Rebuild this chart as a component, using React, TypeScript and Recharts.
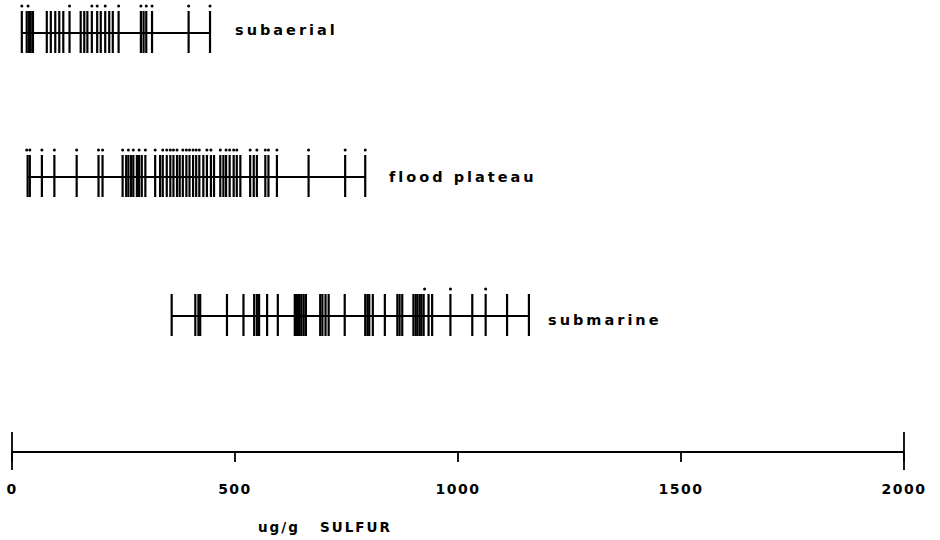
import React from 'react';
import { ScatterChart, Scatter, XAxis, YAxis, ReferenceLine } from 'recharts';

// sulfur values, ug/g
const subaerial = [22, 33, 38, 42, 47, 78, 87, 97, 106, 115, 129, 154, 162, 169, 179, 191, 199, 209, 218, 226, 239, 289, 295, 301, 314, 396, 444];
const subaerialDots = [22, 36, 129, 179, 191, 209, 239, 289, 301, 314, 396, 444];

const flood = [35, 40, 67, 95, 145, 194, 203, 248, 256, 261, 267, 272, 280, 285, 291, 299, 321, 332, 338, 347, 355, 362, 370, 376, 383, 391, 398, 406, 413, 420, 429, 437, 446, 453, 467, 474, 480, 488, 497, 504, 512, 534, 542, 549, 568, 575, 594, 665, 747, 792];
const floodDots = [33, 40, 67, 95, 145, 194, 203, 248, 261, 272, 285, 299, 321, 338, 347, 355, 362, 370, 383, 391, 398, 406, 413, 420, 437, 446, 467, 480, 488, 497, 504, 534, 549, 568, 575, 594, 665, 747, 792];

const submarine = [358, 411, 418, 422, 482, 519, 543, 549, 554, 572, 596, 634, 637, 641, 645, 649, 654, 659, 691, 696, 703, 710, 746, 792, 797, 801, 809, 836, 864, 869, 875, 900, 905, 909, 914, 918, 923, 934, 942, 983, 1032, 1062, 1110, 1159];
const submarineDots = [925, 983, 1062];

const axisTicks = [0, 500, 1000, 1500, 2000];

const rows = [
  { name: 'subaerial', values: subaerial, dots: subaerialDots, y: 33 },
  { name: 'flood plateau', values: flood, dots: floodDots, y: 177 },
  { name: 'submarine', values: submarine, dots: submarineDots, y: 316 },
];

const font = '"DejaVu Sans", sans-serif';

const Stick = (props: any) => {
  const { cx, cy } = props;
  return <line x1={cx} x2={cx} y1={cy - 22} y2={cy + 20} stroke="#000" strokeWidth={2.2} />;
};

const Dot = (props: any) => {
  const { cx, cy } = props;
  return <circle cx={cx} cy={cy - 27} r={1.5} fill="#000" />;
};

const AxisTick = (props: any) => {
  const { x, y, payload } = props;
  return (
    <text x={x} y={y + 30} textAnchor="middle" fontFamily={font} fontWeight="bold" fontSize={14} letterSpacing={1.5} fill="#000">
      {payload.value}
    </text>
  );
};

const App = () => {
  return (
    <div style={{ position: 'absolute', left: 0, top: 0, width: 940, height: 540, background: '#fff' }}>
      <ScatterChart width={940} height={540} margin={{ top: 0, right: 36, bottom: 28, left: 12 }}>
        <XAxis
          type="number"
          dataKey="v"
          domain={[0, 2000]}
          ticks={axisTicks}
          height={60}
          tickSize={10}
          tickLine={{ stroke: '#000', strokeWidth: 1.8 }}
          axisLine={{ stroke: '#000', strokeWidth: 1.8 }}
          tick={<AxisTick />}
          allowDataOverflow
        />
        <YAxis type="number" dataKey="y" domain={[0, 452]} reversed hide />
        <ReferenceLine segment={[{ x: 0, y: 432 }, { x: 0, y: 470 }]} stroke="#000" strokeWidth={1.8} ifOverflow="visible" />
        <ReferenceLine segment={[{ x: 2000, y: 432 }, { x: 2000, y: 470 }]} stroke="#000" strokeWidth={1.8} ifOverflow="visible" />
        {rows.map((r) => (
          <ReferenceLine
            key={r.name + '-line'}
            segment={[{ x: Math.min(...r.values), y: r.y }, { x: Math.max(...r.values), y: r.y }]}
            stroke="#000"
            strokeWidth={2.2}
          />
        ))}
        {rows.map((r) => (
          <Scatter key={r.name} data={r.values.map((v) => ({ v, y: r.y }))} shape={<Stick />} isAnimationActive={false} />
        ))}
        {rows.map((r) => (
          <Scatter key={r.name + '-dots'} data={r.dots.map((v) => ({ v, y: r.y }))} shape={<Dot />} isAnimationActive={false} />
        ))}
      </ScatterChart>
      {[
        { text: 'subaerial', left: 235, top: 30 },
        { text: 'flood plateau', left: 389, top: 177 },
        { text: 'submarine', left: 548, top: 320 },
      ].map((l) => (
        <div
          key={l.text}
          style={{ position: 'absolute', left: l.left, top: l.top - 10, fontFamily: font, fontWeight: 'bold', fontSize: 14.5, letterSpacing: 3, lineHeight: '20px', whiteSpace: 'pre' }}
        >
          {l.text}
        </div>
      ))}
      <div style={{ position: 'absolute', left: 258, top: 517, fontFamily: font, fontWeight: 'bold', fontSize: 13.5, letterSpacing: 2, lineHeight: '20px', whiteSpace: 'pre' }}>
        {'ug/g   SULFUR'}
      </div>
    </div>
  );
};

export default App;
